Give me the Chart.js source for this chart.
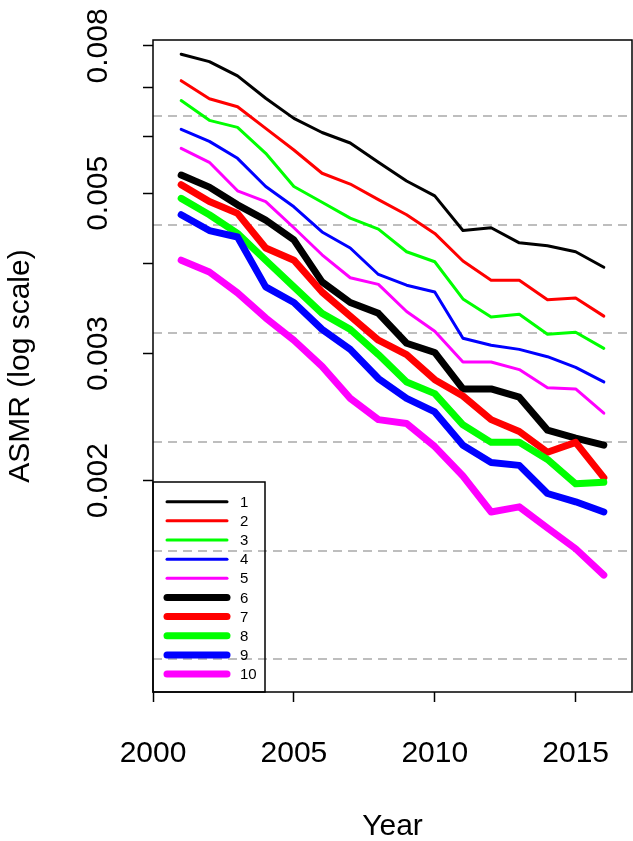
<!DOCTYPE html>
<html>
<head>
<meta charset="utf-8">
<script src="https://cdn.jsdelivr.net/npm/chart.js@4.4.0/dist/chart.umd.min.js"></script>
<style>
  html, body { margin: 0; padding: 0; background: #fff; }
  #chart { display: block; }
</style>
</head>
<body>
<canvas id="chart" width="633" height="841"></canvas>
<script>
// data
const years = [2001, 2002, 2003, 2004, 2005, 2006, 2007, 2008, 2009, 2010, 2011, 2012, 2013, 2014, 2015, 2016];
const s1 = [0.00779, 0.00761, 0.00727, 0.00677, 0.00635, 0.00607, 0.00587, 0.00552, 0.00520, 0.00496, 0.00444, 0.00448, 0.00427, 0.00423, 0.00415, 0.00395];
const s2 = [0.00716, 0.00676, 0.00659, 0.00615, 0.00574, 0.00533, 0.00515, 0.00490, 0.00467, 0.00440, 0.00403, 0.00379, 0.00379, 0.00356, 0.00358, 0.00338];
const s3 = [0.00672, 0.00631, 0.00617, 0.00568, 0.00511, 0.00486, 0.00462, 0.00446, 0.00415, 0.00402, 0.00357, 0.00337, 0.00340, 0.00319, 0.00321, 0.00305];
const s4 = [0.00613, 0.00590, 0.00559, 0.00511, 0.00479, 0.00442, 0.00420, 0.00386, 0.00373, 0.00365, 0.00315, 0.00308, 0.00304, 0.00297, 0.00287, 0.00274];
const s5 = [0.00577, 0.00552, 0.00504, 0.00487, 0.00448, 0.00411, 0.00382, 0.00374, 0.00343, 0.00322, 0.00292, 0.00292, 0.00285, 0.00269, 0.00268, 0.00248];
const s6 = [0.00530, 0.00510, 0.00482, 0.00459, 0.00431, 0.00377, 0.00353, 0.00341, 0.00310, 0.00301, 0.00268, 0.00268, 0.00261, 0.00235, 0.00229, 0.00224];
const s7 = [0.00514, 0.00487, 0.00469, 0.00420, 0.00404, 0.00365, 0.00338, 0.00313, 0.00299, 0.00276, 0.00262, 0.00243, 0.00234, 0.00219, 0.00226, 0.00202];
const s8 = [0.00492, 0.00467, 0.00440, 0.00404, 0.00371, 0.00341, 0.00324, 0.00299, 0.00274, 0.00264, 0.00239, 0.00226, 0.00226, 0.00214, 0.00198, 0.00199];
const s9 = [0.00467, 0.00444, 0.00435, 0.00371, 0.00353, 0.00324, 0.00304, 0.00277, 0.00260, 0.00249, 0.00224, 0.00212, 0.00210, 0.00192, 0.00187, 0.00181];
const s10 = [0.00404, 0.00389, 0.00364, 0.00336, 0.00313, 0.00288, 0.00260, 0.00243, 0.00240, 0.00223, 0.00203, 0.00181, 0.00184, 0.00172, 0.00161, 0.00148];

const seriesNames = ['1', '2', '3', '4', '5', '6', '7', '8', '9', '10'];
const seriesData = [s1, s2, s3, s4, s5, s6, s7, s8, s9, s10];
const seriesColors = ['#000000', '#ff0000', '#00ff00', '#0000ff', '#ff00ff',
                      '#000000', '#ff0000', '#00ff00', '#0000ff', '#ff00ff'];
const seriesWidths = [3, 3, 3, 3, 3, 7, 7, 7, 7, 7];

const xTicks = [2000, 2005, 2010, 2015];
const yTicks = [0.002, 0.003, 0.004, 0.005, 0.006, 0.007, 0.008];
const yLabelled = [0.002, 0.003, 0.005, 0.008];
const dashLines = [0.0011314, 0.0016, 0.0022627, 0.0032, 0.0045255, 0.0064];

const X_MIN = 2000, X_MAX = 2017;
const Y_MIN = 0.0010196, Y_MAX = 0.008152;

const FONT = 'Liberation Sans, Arial, Helvetica, sans-serif';
Chart.defaults.font.family = FONT;
Chart.defaults.color = '#000';

/* legend drawn inside plot, bottom-left */
const boxLegend = {
  id: 'boxLegend',
  afterDatasetsDraw(chart) {
    const { ctx, chartArea } = chart;
    const boxW = 112, boxH = 210, rowH = 19.15;
    const x0 = chartArea.left, y0 = chartArea.bottom - boxH;
    ctx.save();
    ctx.strokeStyle = '#000';
    ctx.lineWidth = 1.5;
    ctx.strokeRect(x0, y0, boxW, boxH);
    ctx.font = '15px ' + FONT;
    ctx.textBaseline = 'middle';
    ctx.textAlign = 'left';
    seriesNames.forEach((name, i) => {
      const y = y0 + 19.7 + i * rowH;
      ctx.beginPath();
      ctx.lineCap = 'round';
      ctx.strokeStyle = seriesColors[i];
      ctx.lineWidth = seriesWidths[i];
      ctx.moveTo(x0 + 14, y);
      ctx.lineTo(x0 + 74, y);
      ctx.stroke();
      ctx.fillStyle = '#000';
      ctx.fillText(name, x0 + 87, y + 1);
    });
    ctx.restore();
  }
};

/* plot frame */
const frame = {
  id: 'frame',
  afterDraw(chart) {
    const { ctx, chartArea } = chart;
    ctx.save();
    ctx.strokeStyle = '#000';
    ctx.lineWidth = 1.5;
    ctx.strokeRect(chartArea.left, chartArea.top, chartArea.right - chartArea.left, chartArea.bottom - chartArea.top);
    ctx.restore();
  }
};

const datasets = seriesData.map((s, i) => ({
  label: seriesNames[i],
  data: years.map((yr, j) => ({ x: yr, y: s[j] })),
  borderColor: seriesColors[i],
  backgroundColor: seriesColors[i],
  borderWidth: seriesWidths[i],
  borderCapStyle: 'round',
  borderJoinStyle: 'round',
  pointRadius: 0,
  tension: 0,
  fill: false,
  order: seriesNames.length - i
}));

new Chart(document.getElementById('chart'), {
  type: 'line',
  data: { datasets },
  options: {
    responsive: false,
    animation: false,
    layout: { padding: { top: 40, right: 1, left: 0, bottom: 0 } },
    plugins: { legend: { display: false }, tooltip: { enabled: false } },
    scales: {
      x: {
        type: 'linear',
        min: X_MIN,
        max: X_MAX,
        afterBuildTicks: s => { s.ticks = xTicks.map(v => ({ value: v })); },
        afterFit: s => { s.height = 149; s.paddingLeft = 0; s.paddingRight = 0; },
        grid: { drawOnChartArea: false, drawTicks: true, tickLength: 10, tickColor: '#000', tickWidth: 1.5 },
        border: { display: false },
        ticks: { autoSkip: false, maxRotation: 0, padding: 34, font: { size: 30 }, color: '#000', callback: v => String(v) },
        title: { display: true, text: 'Year', color: '#000', font: { size: 30 }, padding: { top: 0, bottom: -4 } }
      },
      y: {
        type: 'logarithmic',
        position: 'left',
        min: Y_MIN,
        max: Y_MAX,
        afterBuildTicks: s => { s.ticks = yTicks.map(v => ({ value: v })); },
        afterFit: s => { s.width = 153; s.paddingTop = 0; s.paddingBottom = 0; },
        grid: { drawOnChartArea: false, drawTicks: true, tickLength: 10, tickColor: '#000', tickWidth: 1.5 },
        border: { display: false },
        ticks: {
          autoSkip: false, minRotation: 90, maxRotation: 90, crossAlign: 'center', padding: 7,
          font: { size: 30 }, color: '#000',
          callback: v => yLabelled.some(l => Math.abs(l - v) < 1e-9) ? v.toFixed(3) : ''
        },
        title: { display: true, text: 'ASMR (log scale)', color: '#000', font: { size: 30 }, padding: { top: 3, bottom: 0 } }
      },
      yGrid: {
        type: 'logarithmic',
        position: 'right',
        min: Y_MIN,
        max: Y_MAX,
        afterBuildTicks: s => { s.ticks = dashLines.map(v => ({ value: v })); },
        afterFit: s => { s.width = 0; s.paddingTop = 0; s.paddingBottom = 0; },
        grid: { drawOnChartArea: true, drawTicks: false, color: '#bebebe', lineWidth: 2, borderDash: [9, 6] },
        border: { display: false, dash: [9, 6] },
        ticks: { display: false }
      }
    }
  },
  plugins: [boxLegend, frame]
});
</script>
</body>
</html>
